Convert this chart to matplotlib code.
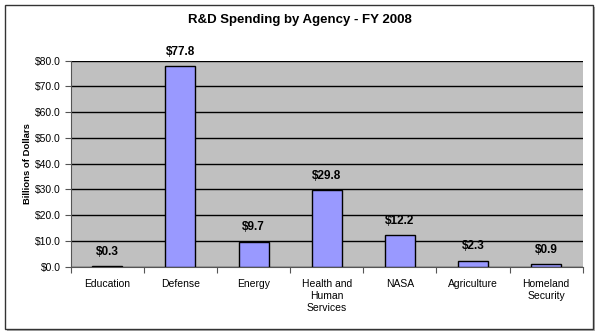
import matplotlib
matplotlib.use("Agg")
import matplotlib.pyplot as plt
from matplotlib.patches import Rectangle
from matplotlib.ticker import MultipleLocator, FuncFormatter
import numpy as np

agencies = ["Education", "Defense", "Energy", "Health and\nHuman\nServices",
            "NASA", "Agriculture", "Homeland\nSecurity"]
spending = [0.3, 77.8, 9.7, 29.8, 12.2, 2.3, 0.9]

plt.rcParams["font.family"] = ["Liberation Sans", "DejaVu Sans"]

fig = plt.figure(figsize=(6.0, 3.35), dpi=100)
W, H = 600, 335

# outer chart frame with a light drop shadow
fig.patches.append(Rectangle((7 / W, 1 - 331 / H), 588 / W, 324 / H,
                             transform=fig.transFigure, facecolor="#b0b0b0",
                             edgecolor="none", zorder=0))
fig.patches.append(Rectangle((5 / W, 1 - 329 / H), 588 / W, 324 / H,
                             transform=fig.transFigure, facecolor="white",
                             edgecolor="#333333", linewidth=1.0, zorder=1))

ax = fig.add_axes([70.7 / W, 1 - 266.7 / H, 512 / W, 206 / H])
ax.set_zorder(2)
ax.set_facecolor("#c0c0c0")

x = np.arange(len(agencies))
ax.bar(x, spending, width=0.41, color="#9999ff", edgecolor="black",
       linewidth=1.0, zorder=3)

for xi, v in zip(x, spending):
    ax.annotate(f"${v:.1f}", (xi, v), xytext=(0, 6), textcoords="offset points",
                ha="center", va="bottom", fontsize=8.5, fontweight="bold",
                color="black", zorder=4)

ax.set_xlim(-0.5, len(agencies) - 0.5)
ax.set_ylim(0, 80)
ax.yaxis.set_major_locator(MultipleLocator(10))
ax.yaxis.set_major_formatter(FuncFormatter(lambda v, p: f"${v:.1f}"))
ax.grid(axis="y", color="black", linewidth=1.0, zorder=1)
ax.set_axisbelow(True)

# category ticks sit between bars, labels at bar centres
ax.set_xticks(np.arange(len(agencies) + 1) - 0.5)
ax.set_xticklabels([])
ax.set_xticks(x, minor=True)
ax.set_xticklabels(agencies, minor=True, fontsize=7.5, linespacing=1.25)
ax.tick_params(axis="x", which="minor", length=0, pad=9)
ax.tick_params(axis="x", which="major", length=4, color="#555555", width=0.8)
ax.tick_params(axis="y", length=4, width=0.8, color="#555555",
               labelsize=7.5, pad=3)

for side in ["top", "right"]:
    ax.spines[side].set_visible(False)
ax.spines["left"].set_color("#555555")
ax.spines["bottom"].set_color("#555555")
ax.spines["left"].set_linewidth(0.8)
ax.spines["bottom"].set_linewidth(0.8)

ax.set_ylabel("Billions of Dollars", fontsize=6.8, fontweight="bold", labelpad=2)

fig.text(0.5, 1 - 20 / H, "R&D Spending by Agency - FY 2008", ha="center",
         va="center", fontsize=9.5, fontweight="bold")

fig.savefig("out.png", dpi=100)
